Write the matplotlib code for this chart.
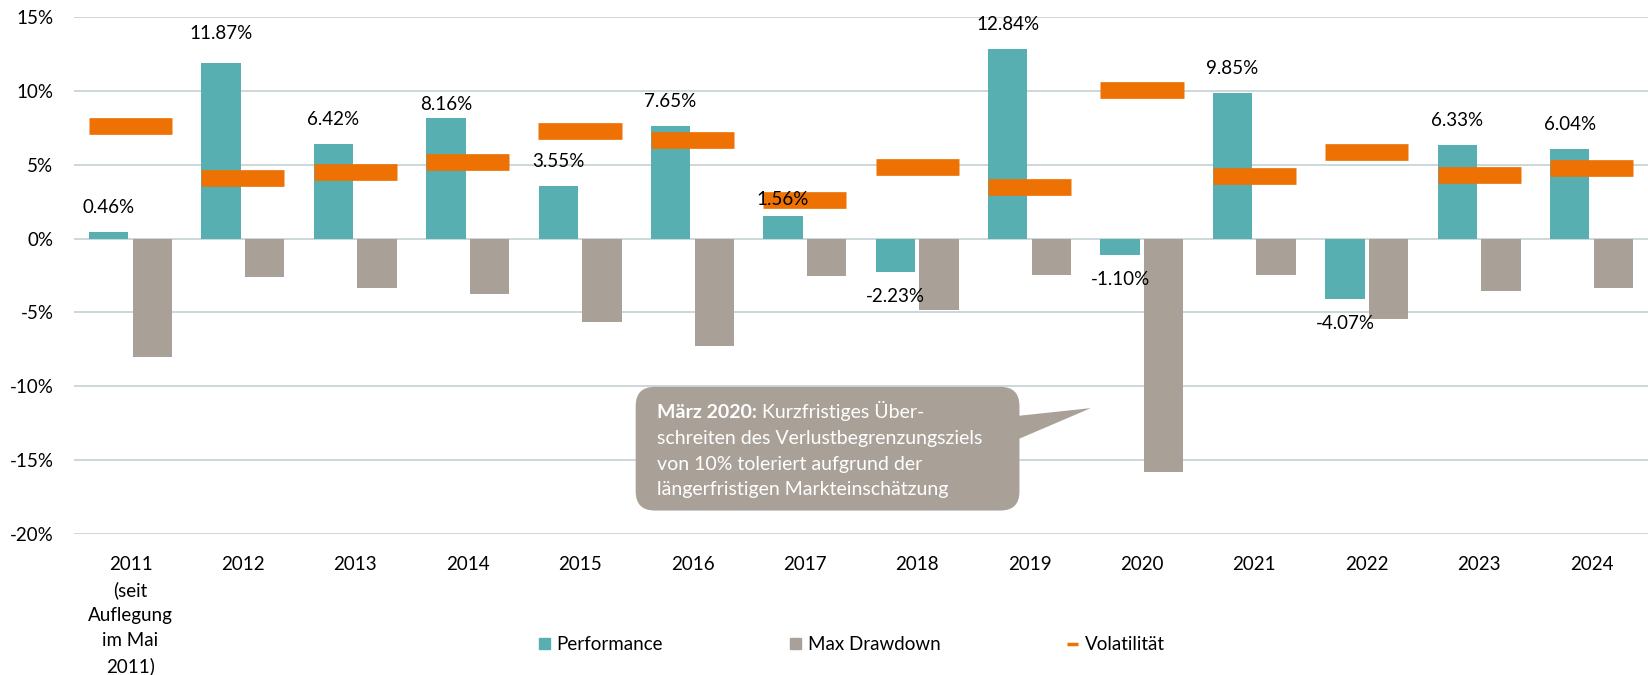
import matplotlib
matplotlib.use("Agg")
import matplotlib.pyplot as plt
import numpy as np
from matplotlib.patches import FancyBboxPatch, Polygon, Patch
from matplotlib.lines import Line2D

# data (percent)
years = ["2011\n(seit\nAuflegung\nim Mai\n2011)", "2012", "2013", "2014", "2015",
         "2016", "2017", "2018", "2019", "2020", "2021", "2022", "2023", "2024"]
performance = [0.46, 11.87, 6.42, 8.16, 3.55, 7.65, 1.56, -2.23, 12.84, -1.10,
               9.85, -4.07, 6.33, 6.04]
max_drawdown = [-8.01, -2.60, -3.35, -3.76, -5.61, -7.29, -2.56, -4.82, -2.47,
                -15.79, -2.47, -5.43, -3.58, -3.35]
volatility = [7.65, 4.13, 4.53, 5.21, 7.31, 6.70, 2.64, 4.87, 3.52, 10.08,
              4.26, 5.89, 4.33, 4.80]
series_names = ["Performance", "Max Drawdown", "Volatilität"]
note_head = "März 2020:"
note_lines = [" Kurzfristiges Über-",
              "schreiten des Verlustbegrenzungsziels",
              "von 10% toleriert aufgrund der",
              "längerfristigen Markteinschätzung"]

TEAL = "#58AFB1"
TAUPE = "#A9A198"
ORANGE = "#ED7203"
GRID = "#BFCDCF"
FS = 13.5
NOTE_FS = 14
PX = 72 / 100  # points per pixel

plt.rcParams["font.family"] = ["Lato", "DejaVu Sans"]

fig = plt.figure(figsize=(16.48, 6.75), dpi=100)
ax = fig.add_axes([0.0451, 0.2086, 0.9547, 0.7664])

x = np.arange(len(years))
BAR_W = 0.35
OFF = 0.194
ax.bar(x - OFF, performance, BAR_W, color=TEAL, zorder=2)
ax.bar(x + OFF, max_drawdown, BAR_W, color=TAUPE, zorder=2)
ax.hlines(volatility, x - 0.37, x + 0.37, colors=ORANGE,
          linewidth=16.7 * PX, capstyle="butt", zorder=3)

# value labels on the performance bars
LABEL_GAP = 24.5
nudge = {1: 5.5, 3: -11, 6: -8}
for i, v in enumerate(performance):
    off = (LABEL_GAP + nudge.get(i, 0)) * PX
    ax.annotate(f"{v:.2f}%", (x[i] - OFF, v),
                xytext=(0, off if v >= 0 else -off), textcoords="offset points",
                ha="center", va="center", fontsize=FS, color="black", zorder=6)

ax.set_xlim(-0.5, len(years) - 0.5)
ax.set_ylim(-20, 15)
yt = np.arange(-20, 16, 5)
ax.set_yticks(yt, [f"{t}%" for t in yt])
ax.set_xticks(x, years)
ax.tick_params(axis="y", length=0, pad=15, labelsize=FS)
ax.tick_params(axis="x", length=0, pad=16, labelsize=FS)
for lab in ax.get_xticklabels():
    lab.set_linespacing(1.55)
for s in ax.spines.values():
    s.set_visible(False)
ax.grid(axis="y", color=GRID, linewidth=1.1)
ax.set_axisbelow(True)

# callout box for March 2020
pos = ax.get_position()
px_per_x = fig.bbox.width * pos.width / (len(years))
px_per_y = fig.bbox.height * pos.height / 35
bx0, bx1, by0, by1 = 4.495, 7.91, -18.4, -10.03
box = FancyBboxPatch((bx0, by0), bx1 - bx0, by1 - by0,
                     boxstyle="round,pad=0,rounding_size=0.17",
                     mutation_aspect=px_per_x / px_per_y,
                     fc=TAUPE, ec="none", zorder=4)
ax.add_patch(box)
ax.add_patch(Polygon([(bx1 - 0.02, -12.0), (8.545, -11.47), (bx1 - 0.02, -13.6)],
                     closed=True, fc=TAUPE, ec="none", zorder=4))

tx, ty = 4.685, -11.79
head = ax.text(tx, ty, note_head, fontweight="bold", color="white",
               fontsize=NOTE_FS, ha="left", va="center", zorder=5)
ax.annotate(note_lines[0], xy=(1, 0), xycoords=head, ha="left", va="bottom",
            color="white", fontsize=NOTE_FS, zorder=5)
for k, line in enumerate(note_lines[1:], start=1):
    ax.annotate(line, (tx, ty), xytext=(0, -k * 25.7 * PX),
                textcoords="offset points", ha="left", va="center",
                color="white", fontsize=NOTE_FS, zorder=5)

handles = [Patch(color=TEAL), Patch(color=TAUPE),
           Line2D([], [], color=ORANGE, lw=2.5, solid_capstyle="butt")]
fig.legend(handles, series_names, loc="center", bbox_to_anchor=(0.517, 0.045),
           ncol=3, frameon=False, fontsize=FS, handlelength=0.59,
           handleheight=0.59, handletextpad=0.35, columnspacing=6.77)

fig.savefig("out.png", dpi=100)
